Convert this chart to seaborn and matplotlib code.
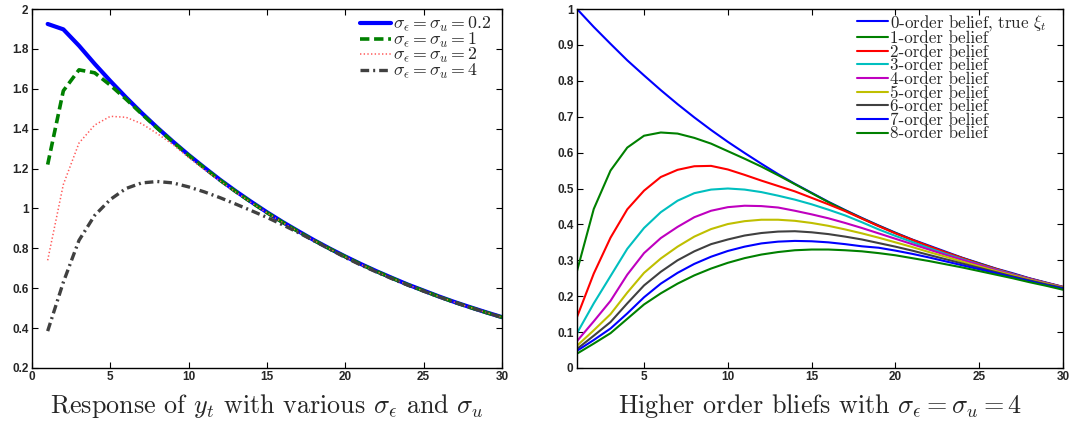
import matplotlib
matplotlib.use("Agg")
import matplotlib.pyplot as plt
import seaborn as sns
import pandas as pd

# ---------------- data ----------------
steps = list(range(1, 31))

resp_s02 = [1.925, 1.898, 1.816, 1.725, 1.639, 1.557, 1.479, 1.405, 1.335, 1.268,
            1.205, 1.144, 1.087, 1.033, 0.981, 0.932, 0.886, 0.841, 0.799, 0.759,
            0.721, 0.685, 0.651, 0.618, 0.588, 0.558, 0.530, 0.504, 0.479, 0.455]
resp_s1 = [1.220, 1.590, 1.695, 1.680, 1.618, 1.548, 1.474, 1.402, 1.333, 1.266,
           1.203, 1.142, 1.085, 1.031, 0.979, 0.930, 0.884, 0.840, 0.798, 0.758,
           0.720, 0.684, 0.650, 0.617, 0.587, 0.557, 0.529, 0.503, 0.478, 0.454]
resp_s2 = [0.740, 1.120, 1.328, 1.418, 1.462, 1.457, 1.425, 1.375, 1.320, 1.255,
           1.195, 1.138, 1.082, 1.029, 0.978, 0.929, 0.883, 0.839, 0.797, 0.757,
           0.719, 0.683, 0.649, 0.617, 0.586, 0.557, 0.529, 0.503, 0.478, 0.454]
resp_s4 = [0.385, 0.630, 0.840, 0.965, 1.045, 1.100, 1.128, 1.135, 1.128, 1.108,
           1.083, 1.054, 1.022, 0.989, 0.955, 0.918, 0.879, 0.838, 0.796, 0.754,
           0.716, 0.681, 0.647, 0.615, 0.585, 0.556, 0.529, 0.503, 0.478, 0.454]
resp_labels = [r"$\sigma_\epsilon=\sigma_u=0.2$", r"$\sigma_\epsilon=\sigma_u=1$",
               r"$\sigma_\epsilon=\sigma_u=2$", r"$\sigma_\epsilon=\sigma_u=4$"]

belief_0 = [1.000, 0.950, 0.903, 0.857, 0.815, 0.774, 0.735, 0.698, 0.663, 0.630,
            0.599, 0.569, 0.540, 0.513, 0.488, 0.463, 0.440, 0.418, 0.397, 0.377,
            0.358, 0.341, 0.324, 0.307, 0.292, 0.277, 0.264, 0.250, 0.238, 0.226]
belief_1 = [0.270, 0.443, 0.550, 0.614, 0.647, 0.656, 0.653, 0.641, 0.625, 0.604,
            0.583, 0.561, 0.537, 0.512, 0.487, 0.462, 0.439, 0.417, 0.396, 0.376,
            0.357, 0.339, 0.322, 0.306, 0.291, 0.276, 0.262, 0.249, 0.237, 0.225]
belief_2 = [0.142, 0.263, 0.363, 0.442, 0.494, 0.532, 0.552, 0.562, 0.563, 0.553,
            0.538, 0.522, 0.507, 0.492, 0.474, 0.456, 0.437, 0.416, 0.395, 0.375,
            0.357, 0.339, 0.322, 0.306, 0.290, 0.276, 0.262, 0.249, 0.237, 0.226]
belief_3 = [0.097, 0.180, 0.256, 0.332, 0.390, 0.434, 0.466, 0.487, 0.497, 0.500,
            0.497, 0.490, 0.480, 0.469, 0.456, 0.441, 0.425, 0.406, 0.386, 0.368,
            0.351, 0.334, 0.318, 0.303, 0.288, 0.274, 0.261, 0.248, 0.236, 0.225]
belief_4 = [0.075, 0.130, 0.187, 0.260, 0.320, 0.362, 0.393, 0.420, 0.438, 0.448,
            0.452, 0.451, 0.447, 0.438, 0.428, 0.417, 0.404, 0.390, 0.375, 0.360,
            0.345, 0.330, 0.315, 0.301, 0.287, 0.273, 0.260, 0.248, 0.236, 0.225]
belief_5 = [0.062, 0.105, 0.150, 0.210, 0.265, 0.305, 0.338, 0.366, 0.387, 0.401,
            0.409, 0.413, 0.413, 0.410, 0.404, 0.396, 0.386, 0.375, 0.363, 0.350,
            0.337, 0.323, 0.310, 0.296, 0.283, 0.270, 0.258, 0.246, 0.235, 0.224]
belief_6 = [0.053, 0.090, 0.128, 0.180, 0.230, 0.268, 0.300, 0.325, 0.345, 0.358,
            0.369, 0.376, 0.380, 0.381, 0.378, 0.373, 0.366, 0.358, 0.348, 0.338,
            0.327, 0.315, 0.303, 0.291, 0.279, 0.267, 0.255, 0.244, 0.233, 0.223]
belief_7 = [0.048, 0.078, 0.110, 0.152, 0.197, 0.235, 0.265, 0.290, 0.310, 0.326,
            0.338, 0.347, 0.352, 0.354, 0.353, 0.350, 0.345, 0.339, 0.335, 0.327,
            0.318, 0.308, 0.297, 0.286, 0.275, 0.264, 0.253, 0.242, 0.231, 0.221]
belief_8 = [0.040, 0.068, 0.097, 0.137, 0.177, 0.208, 0.235, 0.258, 0.277, 0.293,
            0.306, 0.316, 0.323, 0.328, 0.330, 0.330, 0.328, 0.325, 0.320, 0.314,
            0.306, 0.298, 0.289, 0.280, 0.270, 0.260, 0.250, 0.239, 0.229, 0.218]
belief_labels = [r"0-order belief, true $\xi_t$"] + [f"{k}-order belief" for k in range(1, 9)]

left_ticks_x = [0, 5, 10, 15, 20, 25, 30]
left_ticks_y = [0.2, 0.4, 0.6, 0.8, 1.0, 1.2, 1.4, 1.6, 1.8, 2.0]
left_ticklabels_y = ["0.2", "0.4", "0.6", "0.8", "1", "1.2", "1.4", "1.6", "1.8", "2"]
right_ticks_x = [5, 10, 15, 20, 25, 30]
right_ticks_y = [0, 0.1, 0.2, 0.3, 0.4, 0.5, 0.6, 0.7, 0.8, 0.9, 1.0]
right_ticklabels_y = ["0", "0.1", "0.2", "0.3", "0.4", "0.5", "0.6", "0.7", "0.8", "0.9", "1"]

left_title = r"Response of $y_t$ with various $\sigma_\epsilon$ and $\sigma_u$"
right_title = r"Higher order bliefs with $\sigma_\epsilon=\sigma_u=4$"

# ---------------- style ----------------
sns.set_style("ticks")
plt.rcParams["mathtext.fontset"] = "cm"
plt.rcParams["font.family"] = ["cmr10", "DejaVu Serif"]
plt.rcParams["axes.formatter.use_mathtext"] = True

fig = plt.figure(figsize=(10.7, 4.28), dpi=100)
axL = fig.add_axes([32 / 1070, 1 - 368 / 428, 470 / 1070, 359 / 428])
axR = fig.add_axes([577 / 1070, 1 - 368 / 428, 486 / 1070, 359 / 428])

# ---- left panel ----
resp_series = [resp_s02, resp_s1, resp_s2, resp_s4]
resp_colors = [(0, 0, 1), (0, 0.5, 0), (1, 0.35, 0.35), (0.25, 0.25, 0.25)]
resp_lw = [3.0, 2.6, 1.1, 2.4]
resp_dash = [None, (2.6, 1.3), (0.9, 1.5), (2.6, 1.2, 0.6, 1.2)]
for vals, col, lw, dsh, lab in zip(resp_series, resp_colors, resp_lw, resp_dash, resp_labels):
    df = pd.DataFrame({"t": steps, "v": vals})
    sns.lineplot(data=df, x="t", y="v", ax=axL, color=col, linewidth=lw, label=lab)
    ln = axL.lines[-1]
    if dsh is not None:
        ln.set_dashes(dsh)
        ln.set_dash_capstyle("butt")

# ---- right panel ----
belief_series = [belief_0, belief_1, belief_2, belief_3, belief_4,
                 belief_5, belief_6, belief_7, belief_8]
belief_colors = [(0, 0, 1), (0, 0.5, 0), (1, 0, 0), (0, 0.75, 0.75), (0.75, 0, 0.75),
                 (0.75, 0.75, 0), (0.25, 0.25, 0.25), (0, 0, 1), (0, 0.5, 0)]
for vals, col, lab in zip(belief_series, belief_colors, belief_labels):
    df = pd.DataFrame({"t": steps, "v": vals})
    sns.lineplot(data=df, x="t", y="v", ax=axR, color=col, linewidth=1.5, label=lab)

tickfont = dict(family="Liberation Sans", weight="bold", size=8.5)
for ax, xt, yt, ytl, xl, yl in [
    (axL, left_ticks_x, left_ticks_y, left_ticklabels_y, (0, 30), (0.2, 2.0)),
    (axR, right_ticks_x, right_ticks_y, right_ticklabels_y, (1, 30), (0, 1)),
]:
    ax.set_xlim(*xl)
    ax.set_ylim(*yl)
    ax.set_xticks(xt)
    ax.set_xticklabels([str(v) for v in xt], fontdict=tickfont)
    ax.set_yticks(yt)
    ax.set_yticklabels(ytl, fontdict=tickfont)
    ax.tick_params(direction="in", length=4, width=0.8, top=True, right=True, pad=2.5,
                   color="black")
    for s in ax.spines.values():
        s.set_visible(True)
        s.set_linewidth(1.0)
        s.set_color("black")
    ax.set_xlabel("")
    ax.set_ylabel("")
    ax.grid(False)

title_y = (368 - 413) / 359
axL.text(0.5, title_y, left_title, transform=axL.transAxes, ha="center", va="baseline",
         fontsize=18.8)
axR.text(0.5, title_y, right_title, transform=axR.transAxes, ha="center", va="baseline",
         fontsize=18.8)

legL = axL.legend(loc="upper left", bbox_to_anchor=(0.698, 0.982), frameon=False,
                  fontsize=12.8, handlelength=1.75, handletextpad=0.12, labelspacing=-0.2,
                  borderpad=0, borderaxespad=0)
legR = axR.legend(loc="upper left", bbox_to_anchor=(0.576, 0.99), frameon=False,
                  fontsize=12.2, handlelength=1.85, handletextpad=0.12, labelspacing=-0.1,
                  borderpad=0, borderaxespad=0)

fig.savefig("out.png", dpi=100)
